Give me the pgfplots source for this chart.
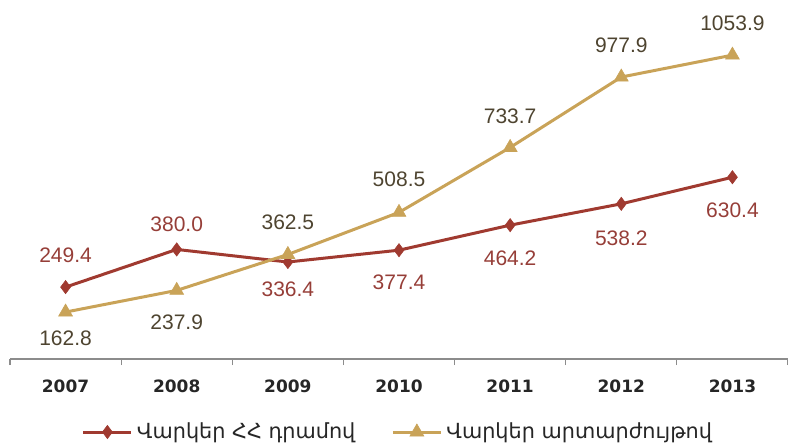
\documentclass[border=0pt]{standalone}
\usepackage{pgfplots}
\pgfplotsset{compat=1.18}
\usepackage{pgfplotstable}
\usepackage{fontspec}
\setmainfont{DejaVu Sans}
\newfontfamily\numfont{Liberation Sans}
\definecolor{redl}{RGB}{160,58,48}
\definecolor{goldl}{RGB}{201,163,88}
\definecolor{redt}{RGB}{150,62,56}
\definecolor{goldt}{RGB}{78,68,48}
\definecolor{axgray}{RGB}{140,140,140}

\pgfplotstableread{
x y dy
0 249.4 16
1 380.0 12.5
2 336.4 -13.5
3 377.4 -16
4 464.2 -16.5
5 538.2 -17
6 630.4 -16.5
}\reddata
\pgfplotstableread{
x y dy
0 162.8 -13
1 237.9 -16
2 362.5 16
3 508.5 16.5
4 733.7 15.5
5 977.9 16
6 1053.9 16
}\golddata

\begin{document}
\begin{tikzpicture}
\path[use as bounding box] (0,0) rectangle (394pt,223.5pt);
\begin{axis}[
  at={(5pt,44pt)}, anchor=south west,
  width=389pt, height=173pt, scale only axis,
  xmin=-0.5, xmax=6.5, ymin=0, ymax=1200,
  axis x line=bottom, axis y line=none,
  x axis line style={-, draw=axgray, line width=0.6pt},
  xtick={0,...,6},
  xticklabels={2007,2008,2009,2010,2011,2012,2013},
  major tick length=0pt,
  minor xtick={-0.5,0.5,...,6.5},
  minor tick length=3pt,
  tick align=outside,
  tick pos=bottom,
  every tick/.style={draw=axgray, line width=0.6pt},
  x tick label style={font=\fontsize{8.5}{10}\selectfont\bfseries, text=black!85, yshift=-7pt},
  clip=false,
  nodes near coords,
  point meta=explicit symbolic,
  legend columns=2,
  legend style={at={(0.5,0)}, anchor=center, yshift=-36.5pt, draw=none,
    font=\fontsize{10.4}{12}\selectfont, text=black!85,
    /tikz/every even column/.append style={column sep=16pt}},
  legend image code/.code={
    \draw[mark repeat=2,mark phase=2] plot coordinates {(0pt,0pt) (12pt,0pt) (24pt,0pt)};
  },
]
\addplot[color=redl, line width=1.5pt, mark=diamond*, mark size=3.3pt,
  mark options={fill=redl, draw=redl, line width=0.3pt},
  visualization depends on={\thisrow{dy} \as \dy},
  every node near coord/.append style={anchor=center, yshift=\dy pt,
    font=\numfont\fontsize{10.5}{12}\selectfont, text=redt}]
  table[x=x, y=y, meta=y] {\reddata};
\addlegendentry{Վարկեր ՀՀ դրամով}
\addplot[color=goldl, line width=1.5pt, mark=triangle*, mark size=4pt,
  mark options={fill=goldl, draw=goldl, line width=0.3pt},
  visualization depends on={\thisrow{dy} \as \dy},
  every node near coord/.append style={anchor=center, yshift=\dy pt,
    font=\numfont\fontsize{10.5}{12}\selectfont, text=goldt}]
  table[x=x, y=y, meta=y] {\golddata};
\addlegendentry{Վարկեր արտարժույթով}
\end{axis}
\end{tikzpicture}
\end{document}
